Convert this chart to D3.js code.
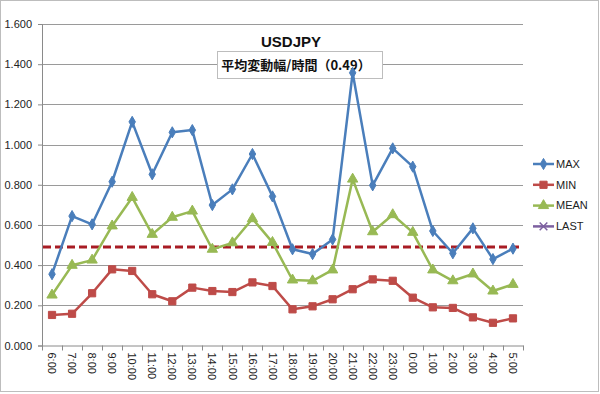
<!DOCTYPE html>
<html>
<head>
<meta charset="utf-8">
<script src="https://cdn.jsdelivr.net/npm/d3@7"></script>
<style>
  body { margin: 0; background: #fff; }
  svg { display: block; font-family: "Liberation Sans", Arial, sans-serif; }
</style>
</head>
<body>
<div id="chart"></div>
<script>
// hours and the three series
var hours = ["6:00","7:00","8:00","9:00","10:00","11:00","12:00","13:00","14:00","15:00","16:00","17:00",
             "18:00","19:00","20:00","21:00","22:00","23:00","0:00","1:00","2:00","3:00","4:00","5:00"];
var maxValues  = [0.355,0.644,0.603,0.815,1.113,0.852,1.061,1.072,0.699,0.777,0.953,0.742,
                  0.479,0.455,0.528,1.357,0.797,0.981,0.890,0.570,0.459,0.583,0.430,0.482];
var minValues  = [0.152,0.158,0.260,0.379,0.371,0.255,0.220,0.288,0.271,0.266,0.314,0.296,
                  0.180,0.195,0.230,0.280,0.329,0.322,0.238,0.190,0.187,0.140,0.113,0.135];
var meanValues = [0.251,0.399,0.425,0.595,0.737,0.553,0.638,0.669,0.479,0.511,0.631,0.513,
                  0.326,0.322,0.376,0.828,0.566,0.651,0.563,0.376,0.322,0.356,0.271,0.304];
var lastValues = [];
var average = 0.49;
var yTicks = [0, 0.2, 0.4, 0.6, 0.8, 1.0, 1.2, 1.4, 1.6];

var width = 600;
var height = 394;
var plotLeft = 42, plotRight = 523, plotTop = 24, plotBottom = 345.5;

var svg = d3.select("#chart").append("svg")
  .attr("width", width)
  .attr("height", height);

// chart frame
svg.append("rect")
  .attr("x", 0.5).attr("y", 0.5)
  .attr("width", 598).attr("height", 391)
  .attr("fill", "#fff")
  .attr("stroke", "#bdbdbd");

var x = d3.scaleBand().domain(hours).range([plotLeft, plotRight]);
var y = d3.scaleLinear().domain([0, 1.6]).range([plotBottom, plotTop]);

// gridlines
svg.append("g")
  .selectAll("line")
  .data(yTicks.slice(1))
  .enter().append("line")
  .attr("x1", plotLeft).attr("x2", plotRight)
  .attr("y1", function(d) { return Math.round(y(d)) + 0.5; })
  .attr("y2", function(d) { return Math.round(y(d)) + 0.5; })
  .attr("stroke", "#9a9a9a")
  .attr("stroke-width", 1);

// y axis
var yAxis = svg.append("g")
  .attr("transform", "translate(" + plotLeft + ",0)")
  .call(d3.axisLeft(y).tickValues(yTicks).tickFormat(d3.format(".3f")).tickSize(4).tickPadding(6));
yAxis.select(".domain").attr("stroke", "#8a8a8a");
yAxis.selectAll(".tick line").attr("stroke", "#8a8a8a");
yAxis.selectAll("text").attr("font-size", 11).attr("fill", "#222");

// x axis
var xAxis = svg.append("g")
  .attr("transform", "translate(0," + plotBottom + ")")
  .call(d3.axisBottom(x).tickSize(0).tickSizeOuter(0));
xAxis.select(".domain").attr("stroke", "#8a8a8a");
xAxis.selectAll("text")
  .attr("font-size", 11)
  .attr("fill", "#222")
  .attr("text-anchor", "start")
  .attr("transform", "rotate(90)")
  .attr("x", 7)
  .attr("y", 0)
  .attr("dy", "0.35em");

// tick marks between categories
svg.append("g")
  .selectAll("line")
  .data(hours.concat([null]))
  .enter().append("line")
  .attr("x1", function(d, i) { return Math.round(plotLeft + i * x.step()) + 0.5; })
  .attr("x2", function(d, i) { return Math.round(plotLeft + i * x.step()) + 0.5; })
  .attr("y1", plotBottom)
  .attr("y2", plotBottom + 5)
  .attr("stroke", "#8a8a8a");

// title and text box
svg.append("text")
  .text("USDJPY")
  .attr("x", 291).attr("y", 47)
  .attr("text-anchor", "middle")
  .attr("font-size", 15)
  .attr("font-weight", "bold")
  .attr("fill", "#111");

svg.append("rect")
  .attr("x", 217.5).attr("y", 51.5)
  .attr("width", 165).attr("height", 27)
  .attr("fill", "#fff")
  .attr("stroke", "#bdbdbd");

svg.append("text")
  .text("平均変動幅/時間（0.49）")
  .attr("x", 296).attr("y", 70)
  .attr("text-anchor", "middle")
  .attr("font-family", "'Noto Sans CJK JP', sans-serif")
  .attr("font-size", 13)
  .attr("font-weight", "bold")
  .attr("fill", "#111");

function cx(d, i) { return x(hours[i]) + x.bandwidth() / 2; }

var line = d3.line()
  .x(function(d, i) { return cx(d, i); })
  .y(function(d) { return y(d); });

var series = [
  {name: "MAX",  values: maxValues,  color: "#4a7ebb", marker: d3.symbolDiamond,  size: 36},
  {name: "MIN",  values: minValues,  color: "#be4b48", marker: d3.symbolSquare,   size: 52},
  {name: "MEAN", values: meanValues, color: "#98b954", marker: d3.symbolTriangle, size: 46},
  {name: "LAST", values: lastValues, color: "#7d60a0", marker: d3.symbolTimes,    size: 40}
];

// average dashed line
svg.append("line")
  .attr("x1", plotLeft + 1).attr("x2", plotRight - 4)
  .attr("y1", y(average)).attr("y2", y(average))
  .attr("stroke", "#a81c24")
  .attr("stroke-width", 3)
  .attr("stroke-dasharray", "8,4");

series.forEach(function(s) {
  svg.append("path")
    .datum(s.values)
    .attr("d", line)
    .attr("fill", "none")
    .attr("stroke", s.color)
    .attr("stroke-width", 2.5)
    .attr("stroke-linejoin", "round");

  svg.append("g")
    .selectAll("path")
    .data(s.values)
    .enter().append("path")
    .attr("d", d3.symbol().type(s.marker).size(s.size))
    .attr("transform", function(d, i) { return "translate(" + cx(d, i) + "," + y(d) + ")"; })
    .attr("fill", s.color)
    .attr("stroke", s.color)
    .attr("stroke-width", 1);
});

// legend
var legend = svg.append("g").attr("transform", "translate(533,164)");
series.forEach(function(s, i) {
  var row = legend.append("g").attr("transform", "translate(0," + (i * 20.8) + ")");
  row.append("line")
    .attr("x1", 0).attr("x2", 21)
    .attr("stroke", s.color)
    .attr("stroke-width", 2.5);
  row.append("path")
    .attr("d", d3.symbol().type(s.marker).size(s.size))
    .attr("transform", "translate(10.5,0)")
    .attr("fill", s.color)
    .attr("stroke", s.color)
    .attr("stroke-width", s.name == "LAST" ? 1.5 : 1);
  row.append("text")
    .text(s.name)
    .attr("x", 23).attr("y", 0)
    .attr("dy", "0.35em")
    .attr("font-size", 11)
    .attr("fill", "#222");
});
</script>
</body>
</html>
